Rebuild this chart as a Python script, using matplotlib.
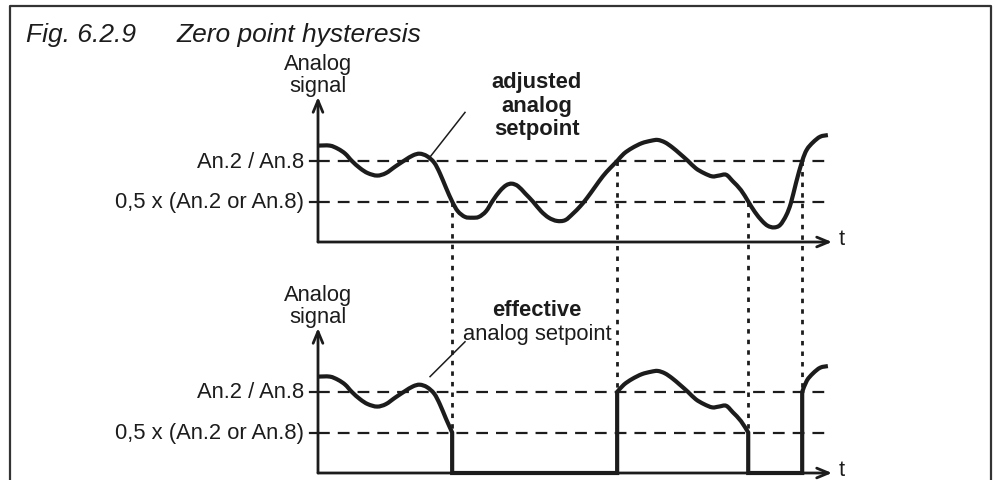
import numpy as np
import matplotlib.pyplot as plt
from matplotlib.lines import Line2D
from matplotlib.path import Path
from matplotlib.patches import PathPatch

plt.rcParams['font.family'] = ['Liberation Sans', 'DejaVu Sans']

# adjusted analog setpoint (time in arbitrary units, signal relative to An.2 / An.8)
t_adj = [0.00, 0.23, 0.39, 0.53, 0.66, 0.82, 0.97, 1.15, 1.32, 1.50,
         1.69, 1.85, 1.98, 2.12, 2.26, 2.37, 2.49, 2.61, 2.72, 2.86,
         3.00, 3.13, 3.27, 3.40, 3.54, 3.66, 3.77, 3.89, 4.03, 4.18,
         4.34, 4.49, 4.65, 4.81, 4.96, 5.10, 5.23, 5.39, 5.54, 5.68,
         5.82, 5.95, 6.11, 6.30, 6.48, 6.61, 6.75, 6.89, 7.04, 7.20,
         7.35, 7.51, 7.67, 7.80, 7.94, 8.07, 8.23, 8.37, 8.50, 8.64,
         8.75, 8.87, 8.99, 9.11, 9.20, 9.30, 9.42, 9.51, 9.63, 9.77,
         9.92]
v_adj = [1.19, 1.19, 1.15, 1.09, 1.00, 0.91, 0.85, 0.82, 0.85, 0.93,
         1.01, 1.07, 1.09, 1.06, 0.98, 0.85, 0.67, 0.50, 0.38, 0.31,
         0.30, 0.31, 0.38, 0.51, 0.63, 0.70, 0.72, 0.69, 0.60, 0.50,
         0.38, 0.30, 0.26, 0.27, 0.35, 0.44, 0.54, 0.68, 0.81, 0.91,
         1.00, 1.09, 1.16, 1.22, 1.25, 1.26, 1.23, 1.17, 1.09, 1.00,
         0.91, 0.85, 0.81, 0.82, 0.83, 0.75, 0.64, 0.50, 0.37, 0.26,
         0.20, 0.18, 0.21, 0.33, 0.48, 0.73, 1.00, 1.14, 1.23, 1.30,
         1.32]

upper = 1.0   # An.2 / An.8
lower = 0.5   # 0,5 x (An.2 or An.8)
level_labels = ['An.2 / An.8', '0,5 x (An.2 or An.8)']

# effective setpoint: cut to zero below the lower level, back on above the upper level
on_segments = [[]]
switch_off, switch_on = [], []
on = True
for ti, vi in zip(t_adj, v_adj):
    if on and vi <= lower:
        on_segments[-1].append((ti, vi))
        switch_off.append(ti)
        on = False
    elif not on and vi >= upper:
        on_segments.append([(ti, vi)])
        switch_on.append(ti)
        on = True
    elif on:
        on_segments[-1].append((ti, vi))

ink = '#1c1c1c'
px_t = 51.4     # pixels per time unit
px_v = 81.0     # pixels per signal unit
shift = -231 / px_v   # lower diagram sits below the upper one


def smooth(pts, off, first=True):
    # catmull-rom through the points, written as cubic bezier pieces
    p = np.array(pts, dtype=float)
    p[:, 1] += off
    verts = [tuple(p[0])]
    codes = [Path.MOVETO if first else Path.LINETO]
    n = len(p)
    for i in range(n - 1):
        p0 = p[max(i - 1, 0)]
        p3 = p[min(i + 2, n - 1)]
        c1 = p[i] + (p[i + 1] - p0) / 6
        c2 = p[i + 1] - (p3 - p[i]) / 6
        verts += [tuple(c1), tuple(c2), tuple(p[i + 1])]
        codes += [Path.CURVE4] * 3
    return verts, codes


fig = plt.figure(figsize=(9.99, 4.81), dpi=100)
ax = fig.add_axes([0, 0, 1, 1])
ax.set_xlim(-318 / px_t, (999 - 318) / px_t)
ax.set_ylim(-(481 - 243) / px_v, 243 / px_v)
ax.axis('off')

fs = 15.8
t_end = 9.92
arrow = dict(arrowstyle='->,head_length=0.6,head_width=0.25', lw=2.0,
             color=ink, mutation_scale=14, shrinkA=0, shrinkB=0)


def panel(off):
    ax.annotate('', xy=(0, off + 1.79), xytext=(0, off), arrowprops=arrow)
    ax.annotate('', xy=(10.0, off), xytext=(0, off), arrowprops=arrow)
    ax.text(10.12, off + 0.04, 't', fontsize=fs, color=ink, ha='left', va='center')
    ax.text(0, off + 2.07, 'Analog\nsignal', fontsize=fs, color=ink,
            ha='center', va='center', linespacing=1.05)
    for lvl, lab in zip([upper, lower], level_labels):
        ax.plot([0, t_end], [off + lvl, off + lvl], color=ink, lw=1.6,
                dashes=(5.3, 3.6), zorder=2)
        ax.plot([-0.16, 0], [off + lvl, off + lvl], color=ink, lw=1.6, zorder=2)
        ax.text(-0.27, off + lvl, lab, fontsize=fs, color=ink,
                ha='right', va='center')


panel(0)
panel(shift)

# switching instants tied between both diagrams
for ts in switch_off:
    ax.plot([ts, ts], [lower, shift + lower], color=ink, lw=2.0,
            linestyle=(0, (1.6, 2.2)), zorder=1)
for ts in switch_on:
    ax.plot([ts, ts], [upper, shift + upper], color=ink, lw=2.0,
            linestyle=(0, (1.6, 2.2)), zorder=1)

# upper diagram: adjusted setpoint
v, c = smooth(list(zip(t_adj, v_adj)), 0)
ax.add_patch(PathPatch(Path(v, c), fill=False, ec=ink, lw=3, zorder=3))

# lower diagram: effective setpoint
verts, codes = [], []
for k, seg in enumerate(on_segments):
    if k > 0:
        verts += [(seg[0][0], shift)]
        codes += [Path.LINETO]
    sv, sc = smooth(seg, shift, first=(k == 0))
    verts += sv
    codes += sc
    if k < len(switch_off):
        verts += [(switch_off[k], shift)]
        codes += [Path.LINETO]
ax.add_patch(PathPatch(Path(verts, codes), fill=False, ec=ink, lw=3,
                       joinstyle='miter', zorder=3))

# callouts
ax.plot([2.18, 2.86], [1.05, 1.60], color=ink, lw=1.1)
ax.text(4.26, 1.69, 'adjusted\nanalog\nsetpoint', fontsize=fs, color=ink,
        fontweight='bold', ha='center', va='center', linespacing=1.16)
ax.plot([2.18, 2.86], [shift + 1.19, shift + 1.62], color=ink, lw=1.1)
ax.text(4.26, shift + 2.02, 'effective', fontsize=fs, color=ink,
        fontweight='bold', ha='center', va='center')
ax.text(4.26, shift + 1.72, 'analog setpoint', fontsize=fs, color=ink,
        ha='center', va='center')

# frame, open at the bottom
xl, xr, yt = 10 / 999, 991 / 999, 1 - 7 / 481
fig.add_artist(Line2D([xl, xl, xr, xr], [0, yt, yt, 0], color='#333333',
                      lw=1.6, transform=fig.transFigure))

fig.text(26 / 999, 1 - 42 / 481, 'Fig. 6.2.9', fontsize=19, style='italic',
         color=ink, va='baseline')
fig.text(177 / 999, 1 - 42 / 481, 'Zero point hysteresis', fontsize=19,
         style='italic', color=ink, va='baseline')

fig.savefig('out.png', dpi=100)
